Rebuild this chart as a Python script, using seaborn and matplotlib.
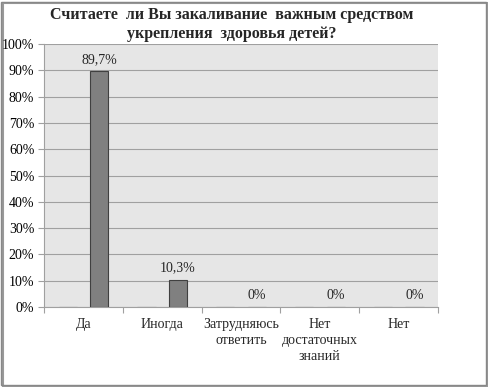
import matplotlib
matplotlib.use("Agg")
import matplotlib.pyplot as plt
import seaborn as sns
import pandas as pd
from matplotlib.patches import Rectangle

categories = ["Да", "Иногда", "Затрудняюсь\nответить", "Нет\nдостаточных\nзнаний", "Нет"]
values = [89.7, 10.3, 0.0, 0.0, 0.0]
value_labels = ["89,7%", "10,3%", "0%", "0%", "0%"]
title = "Считаете  ли Вы закаливание  важным средством\nукрепления  здоровья детей?"

sns.set_theme(style="white")
plt.rcParams['font.family'] = ['Liberation Serif', 'DejaVu Serif']

df = pd.DataFrame({
    "cat": categories + categories,
    "val": [0.0] * len(values) + values,
    "series": ["pad"] * len(values) + ["main"] * len(values),
})

fig = plt.figure(figsize=(4.89, 3.87), dpi=100)
ax = fig.add_axes([0.09, 0.207, 0.806, 0.679])
ax.set_facecolor("#e6e6e6")

sns.barplot(data=df, x="cat", y="val", hue="series", hue_order=["pad", "main"],
            palette={"pad": "#808080", "main": "#808080"}, dodge=True, gap=0.425,
            width=0.8, edgecolor="#404040", linewidth=0.8, legend=False, ax=ax,
            errorbar=None, zorder=3)

ax.set_ylim(0, 100)
ax.set_xlim(-0.5, len(categories) - 0.5)
ax.set_yticks(range(0, 101, 10))
ax.set_yticklabels([f"{v}%" for v in range(0, 101, 10)], fontsize=10, color="#000000")
ax.yaxis.grid(True, color="#a0a0a0", linewidth=0.8, zorder=0)
ax.set_axisbelow(True)
ax.tick_params(axis="y", length=4, width=0.8, color="#a0a0a0", pad=3, left=True)
ax.tick_params(axis="x", length=0, labelsize=10, pad=8)
ax.set_xticks(range(len(categories)))
ax.set_xticklabels(categories, fontsize=10, linespacing=1.3)
ax.set_xticks([i - 0.5 for i in range(len(categories) + 1)], minor=True)
ax.tick_params(axis="x", which="minor", length=4, width=0.8, color="#a0a0a0", bottom=True)
ax.set_xlabel("")
ax.set_ylabel("")

for s in ["top", "right"]:
    ax.spines[s].set_visible(False)
ax.spines["left"].set_color("#a0a0a0")
ax.spines["bottom"].set_color("#a0a0a0")
ax.spines["left"].set_linewidth(0.8)
ax.spines["bottom"].set_linewidth(0.8)

for i, (v, lab) in enumerate(zip(values, value_labels)):
    ax.text(i + 0.2, v + 2, lab, ha="center", va="bottom", fontsize=10)

fig.suptitle(title, fontsize=11.5, fontweight="bold", x=0.474, y=0.982, linespacing=1.25)

fig.patches.append(Rectangle((0.003, 0.004), 0.99, 0.99, transform=fig.transFigure,
                             fill=False, edgecolor="#888888", linewidth=1.0))
fig.patches.append(Rectangle((0.006, 0.0), 0.991, 0.991, transform=fig.transFigure,
                             fill=False, edgecolor="#999999", linewidth=1.5, zorder=-1))

fig.savefig("out.png", dpi=100)
